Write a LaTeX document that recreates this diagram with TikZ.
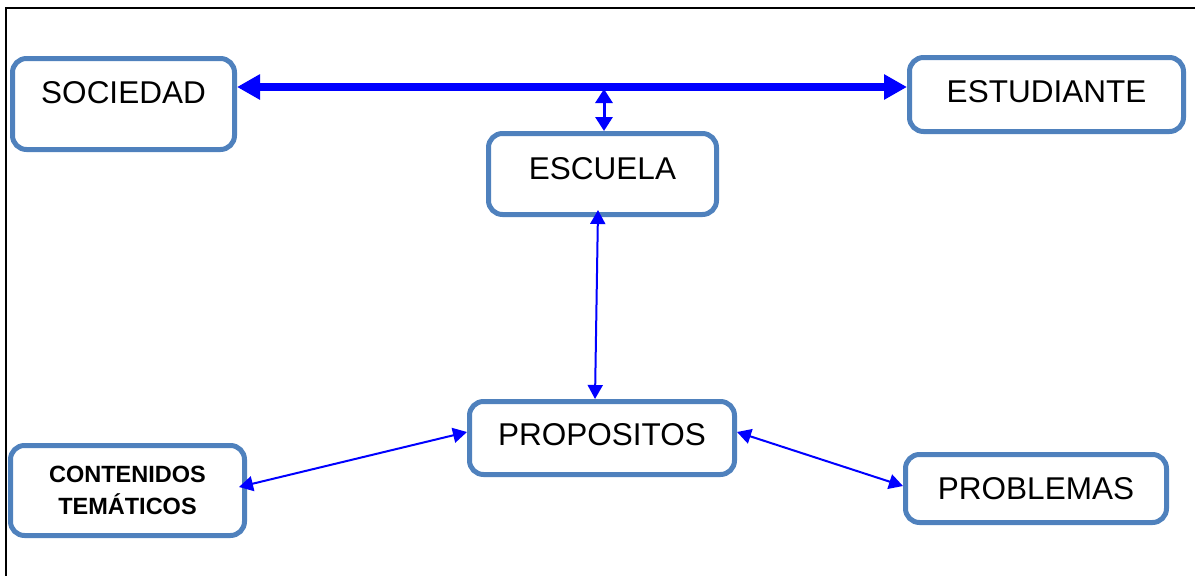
\documentclass[tikz,border=0pt]{standalone}
\usepackage{fontspec}
\setmainfont{Liberation Sans}
\usetikzlibrary{arrows.meta,positioning}
\definecolor{borde}{HTML}{4F81BD}

\begin{document}
\begin{tikzpicture}[x=1pt,y=-1pt,
caja/.style={
	draw=borde,
	line width=5pt,
	rounded corners=14pt,
	inner sep=0pt,
	text height=22.5pt,
	font=\fontsize{31.5}{38}\selectfont
},
grueso/.style={
	draw=blue,
	line width=7.5pt,
	{Triangle[length=23pt,width=24pt]}-{Triangle[length=23pt,width=24pt]}
},
fino/.style={
	draw=blue,
	line width=2pt,
	{Triangle[length=14pt,width=15pt]}-{Triangle[length=14pt,width=15pt]}
}
]

\useasboundingbox (0,0) rectangle (1195,576);
\draw[line width=2pt] (5.5,576) -- (5.5,7.5) -- (1195,7.5);

\node[caja, minimum width=222pt, minimum height=91pt, text depth=23pt] 
(soc) at (123.5,104) {SOCIEDAD};

\node[caja, minimum width=274pt, minimum height=74pt, text depth=6pt] 
(est) at (1046.5,94.5) {ESTUDIANTE};

\node[caja, minimum width=228pt, minimum height=81pt, text depth=12pt] 
(esc) at (602.5,174) {ESCUELA};

\node[caja, minimum width=265pt, minimum height=73pt, text depth=7pt] 
(pro) at (602,438) {PROPOSITOS};

\node[caja, minimum width=234pt, minimum height=90pt, text height={}, text depth={},
	align=center, font=\fontsize{23.5}{32}\selectfont\bfseries] 
(con) at (127.5,490.5) {CONTENIDOS\\TEMÁTICOS};

\node[caja, minimum width=261pt, minimum height=68pt, text depth=0pt] 
(prb) at (1036,488.5) {PROBLEMAS};

\coordinate (barra) at (604,89);

\draw[grueso] ([yshift=17pt]soc.east) -- ([yshift=7.5pt]est.west);
\draw[fino, line width=3pt, {Triangle[length=14pt,width=17pt]}-{Triangle[length=14pt,width=17pt]}] 
(barra) -- ([xshift=1.5pt]esc.north);
\draw[fino] ([xshift=-4.5pt,yshift=7pt]esc.south) -- ([xshift=-7pt]pro.north);
\draw[fino] ([yshift=6pt]pro.west) -- ([xshift=-8pt,yshift=3.5pt]con.east);
\draw[fino] ([yshift=6pt]pro.east) -- ([yshift=2.5pt]prb.west);

\end{tikzpicture}
\end{document}
